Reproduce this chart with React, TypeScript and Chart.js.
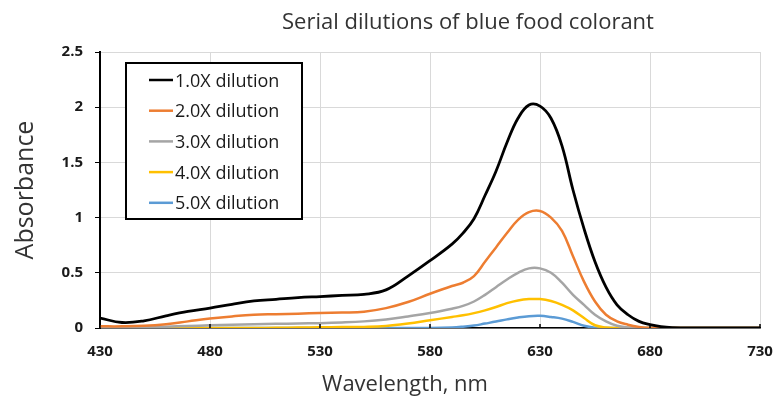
import React, { useEffect, useRef } from "react";
import { Chart, registerables } from "chart.js";

Chart.register(...registerables);

const TITLE = "Serial dilutions of blue food colorant";
const X_TITLE = "Wavelength, nm";
const Y_TITLE = "Absorbance";
const SERIES_LABELS = ["1.0X dilution", "2.0X dilution", "3.0X dilution", "4.0X dilution", "5.0X dilution"];
const SERIES_COLORS = ["#000000", "#ED7D31", "#A5A5A5", "#FFC000", "#5B9BD5"];
const X_TICKS = [430, 480, 530, 580, 630, 680, 730];
const Y_TICKS = [0, 0.5, 1, 1.5, 2, 2.5];

const WAVELENGTHS = [
  430, 440, 450, 460, 470, 480, 490, 500, 510, 520, 530, 540, 550, 560, 570, 580, 590, 595, 600, 605,
  610, 615, 620, 625, 630, 635, 640, 645, 650, 655, 660, 665, 670, 675, 680, 685, 690, 700, 710, 720, 730,
];

const DIL_1X = [
  0.09, 0.05, 0.065, 0.11, 0.15, 0.18, 0.215, 0.245, 0.26, 0.275, 0.285, 0.295, 0.305, 0.345, 0.47, 0.61, 0.76, 0.86, 0.99, 1.2,
  1.42, 1.68, 1.9, 2.02, 2.01, 1.9, 1.65, 1.25, 0.9, 0.6, 0.37, 0.21, 0.12, 0.06, 0.03, 0.012, 0.004, 0, 0, 0, 0,
];
const DIL_2X = [
  0.015, 0.015, 0.02, 0.035, 0.06, 0.085, 0.105, 0.12, 0.125, 0.13, 0.135, 0.14, 0.148, 0.18, 0.235, 0.31, 0.38, 0.41, 0.47, 0.6,
  0.73, 0.86, 0.98, 1.05, 1.06, 1.0, 0.88, 0.65, 0.42, 0.24, 0.12, 0.06, 0.03, 0.01, 0, 0, 0, 0, 0, 0, 0,
];
const DIL_3X = [
  0.003, 0.005, 0.008, 0.012, 0.018, 0.024, 0.03, 0.035, 0.038, 0.041, 0.044, 0.05, 0.06, 0.078, 0.105, 0.135, 0.175, 0.2, 0.24, 0.3,
  0.37, 0.44, 0.5, 0.54, 0.54, 0.5, 0.41, 0.3, 0.21, 0.12, 0.06, 0.02, 0.005, 0, 0, 0, 0, 0, 0, 0, 0,
];
const DIL_4X = [
  0, 0, 0, 0, 0, 0, 0, 0, 0.002, 0.004, 0.006, 0.008, 0.01, 0.018, 0.04, 0.07, 0.1, 0.115, 0.135, 0.16,
  0.19, 0.225, 0.25, 0.262, 0.262, 0.245, 0.21, 0.16, 0.09, 0.025, 0.005, 0, 0, 0, 0, 0, 0, 0, 0, 0, 0,
];
const DIL_5X = [
  0, 0, 0, 0, 0, 0, 0, 0, 0, 0, 0, 0, 0, 0, 0, 0, 0.005, 0.012, 0.022, 0.04,
  0.058, 0.078, 0.095, 0.107, 0.11, 0.1, 0.085, 0.055, 0.02, 0.003, 0, 0, 0, 0, 0, 0, 0, 0, 0, 0, 0,
];
const SERIES = [DIL_1X, DIL_2X, DIL_3X, DIL_4X, DIL_5X];

const FONT = "'Open Sans', 'DejaVu Sans', sans-serif";

const overlayPlugin = {
  id: "overlay",
  afterDatasetsDraw(chart: any) {
    const { ctx, chartArea, scales } = chart;
    ctx.save();
    ctx.strokeStyle = "#000";
    ctx.lineWidth = 1.5;
    for (const v of X_TICKS) {
      const x = scales.x.getPixelForValue(v);
      ctx.beginPath();
      ctx.moveTo(x, chartArea.bottom - 4);
      ctx.lineTo(x, chartArea.bottom);
      ctx.stroke();
    }
    ctx.restore();
  },
  afterDraw(chart: any) {
    const { ctx, chartArea } = chart;
    ctx.save();
    ctx.fillStyle = "#333333";
    ctx.font = `22px ${FONT}`;
    ctx.textAlign = "center";
    ctx.textBaseline = "alphabetic";
    ctx.fillText(TITLE, 468, 29);
    ctx.font = `22px ${FONT}`;
    ctx.fillText(X_TITLE, 405, 391);
    ctx.save();
    ctx.translate(33, (chartArea.top + chartArea.bottom) / 2);
    ctx.rotate(-Math.PI / 2);
    ctx.font = `25px ${FONT}`;
    ctx.fillText(Y_TITLE, 0, 0);
    ctx.restore();

    const bx = chartArea.left + 26;
    const by = chartArea.top + 11;
    const bw = 176;
    const bh = 156;
    ctx.fillStyle = "#ffffff";
    ctx.fillRect(bx, by, bw, bh);
    ctx.strokeStyle = "#000";
    ctx.lineWidth = 2;
    ctx.strokeRect(bx, by, bw, bh);
    ctx.font = `18px ${FONT}`;
    ctx.textAlign = "left";
    chart.data.datasets.forEach((ds: any, i: number) => {
      const cy = by + 17 + i * 30.7;
      ctx.strokeStyle = ds.borderColor;
      ctx.lineWidth = 2.5;
      ctx.beginPath();
      ctx.moveTo(bx + 23, cy);
      ctx.lineTo(bx + 47, cy);
      ctx.stroke();
      ctx.fillStyle = "#1a1a1a";
      ctx.fillText(ds.label, bx + 49, cy + 6.5);
    });
    ctx.restore();
  },
};

export default function App() {
  const ref = useRef<HTMLCanvasElement | null>(null);
  useEffect(() => {
    if (!ref.current) return;
    const datasets = SERIES.map((vals, i) => ({
      label: SERIES_LABELS[i],
      data: WAVELENGTHS.map((w, j) => ({ x: w, y: vals[j] })),
      borderColor: SERIES_COLORS[i],
      backgroundColor: SERIES_COLORS[i],
      borderWidth: i === 0 ? 2.8 : 2.5,
      pointRadius: 0,
      tension: 0.4,
      fill: false,
    }));
    const chart = new Chart(ref.current, {
      type: "line",
      data: { datasets },
      options: {
        animation: false,
        responsive: false,
        maintainAspectRatio: false,
        layout: { padding: { top: 52, right: 14, bottom: 0, left: 0 } },
        plugins: {
          legend: { display: false },
          title: { display: false },
          tooltip: { enabled: false },
        },
        scales: {
          x: {
            type: "linear",
            min: 430,
            max: 730,
            afterBuildTicks: (s: any) => {
              s.ticks = X_TICKS.map((v) => ({ value: v }));
            },
            afterFit: (s: any) => {
              s.height = 70;
              s.paddingLeft = 0;
              s.paddingRight = 0;
            },
            grid: { color: "#d9d9d9", lineWidth: 1, drawTicks: false },
            border: { color: "#000", width: 1.5 },
            ticks: {
              padding: 15,
              color: "#1a1a1a",
              font: { family: FONT, size: 15, weight: "bold" },
              maxRotation: 0,
              callback: (v: any) => String(v),
            },
          },
          y: {
            type: "linear",
            min: 0,
            max: 2.5,
            afterBuildTicks: (s: any) => {
              s.ticks = Y_TICKS.map((v) => ({ value: v }));
            },
            afterFit: (s: any) => {
              s.width = 100;
              s.paddingTop = 0;
              s.paddingBottom = 0;
            },
            grid: { color: "#d9d9d9", lineWidth: 1, tickColor: "#000", tickLength: 5, drawTicks: true },
            border: { color: "#000", width: 2 },
            ticks: {
              padding: 12,
              color: "#1a1a1a",
              font: { family: FONT, size: 15, weight: "bold" },
              callback: (v: any) => String(v),
            },
          },
        },
      },
      plugins: [overlayPlugin],
    });
    return () => chart.destroy();
  }, []);
  return (
    <div style={{ position: "absolute", left: 0, top: 0, width: 774, height: 398, background: "#fff" }}>
      <canvas ref={ref} width={774} height={398} style={{ display: "block" }} />
    </div>
  );
}
